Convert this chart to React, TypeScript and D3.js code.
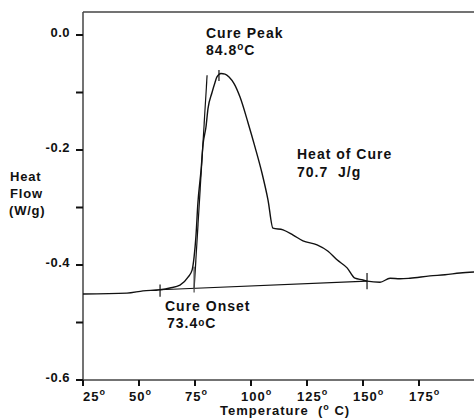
import React from "react";
import * as d3 from "d3";

const temps = [25, 44.6, 51.8, 59.4, 63.8, 68.3, 71.9, 73.7, 74.6, 75.4, 76.3, 77.7, 78.6, 79.9, 80.8, 82.6, 83.9, 84.8, 86.6, 88.4, 90.2, 92.5, 95.1, 98.7, 101.8, 104.9, 107.6, 109.8, 114.3, 118.8, 123.2, 129.5, 134.4, 138.4, 142.9, 146.4, 150.0, 151.8, 157.6, 162.1, 166.5, 171.0, 179.9, 186.6, 193.3, 200];
const heatFlow = [-0.4504, -0.449, -0.445, -0.443, -0.44, -0.435, -0.421, -0.409, -0.386, -0.351, -0.292, -0.235, -0.19, -0.16, -0.128, -0.1, -0.083, -0.073, -0.067, -0.068, -0.073, -0.085, -0.108, -0.153, -0.195, -0.24, -0.287, -0.336, -0.339, -0.348, -0.358, -0.365, -0.376, -0.391, -0.405, -0.423, -0.426, -0.428, -0.43, -0.423, -0.424, -0.423, -0.419, -0.417, -0.414, -0.412];

const baselineT = [59.4, 151.8];
const baselineV = [-0.443, -0.428];
const tangentT = [80.4, 74.6];
const tangentV = [-0.07, -0.442];
const onsetLineT = 74.6;
const onsetLineV = [-0.403, -0.448];
const startTickT = 59.4;
const startTickV = [-0.434, -0.455];
const endTickT = 151.8;
const endTickV = [-0.414, -0.442];
const peakTickT = 85.7;
const peakTickV = [-0.061, -0.08];

const xTicks = [25, 50, 75, 100, 125, 150, 175];
const yTicks = [0, -0.1, -0.2, -0.3, -0.4, -0.5, -0.6];
const yTickLabels = ["0.0", "", "-0.2", "", "-0.4", "", "-0.6"];

const W = 474;
const H = 418;
const x = d3.scaleLinear().domain([25, 200]).range([83, 475]);
const y = d3.scaleLinear().domain([-0.6, 0.04]).range([380, 12]);

const FONT = "'Liberation Sans', Arial, sans-serif";

export default function App() {
  const line = d3
    .line<number>()
    .x((_, i) => x(temps[i]))
    .y((d) => y(d))
    .curve(d3.curveMonotoneX);
  const path = line(heatFlow) || "";
  const axisColor = "#444";
  const txt = { fontFamily: FONT, fontWeight: 700, fontSize: 14, letterSpacing: 1, fill: "#111", style: { whiteSpace: "pre" as const } };
  const sup = (s: string) => (
    <tspan fontSize={9} dy={-6}>
      {s}
    </tspan>
  );
  return (
    <svg width={W} height={H} style={{ position: "fixed", left: 0, top: 0, background: "#fff" }}>
      <rect x={0} y={0} width={W} height={H} fill="#fff" />
      <line x1={83} y1={12} x2={W} y2={12} stroke={axisColor} strokeWidth={1.5} />
      <line x1={83} y1={12} x2={83} y2={382} stroke={axisColor} strokeWidth={1.5} />
      <line x1={83} y1={380} x2={W} y2={380} stroke={axisColor} strokeWidth={1.5} />
      {yTicks.map((t, i) => (
        <g key={"y" + i}>
          <line x1={76} x2={83} y1={y(t)} y2={y(t)} stroke="#111" strokeWidth={2} />
          {yTickLabels[i] && (
            <text x={70} y={y(t) + 2} textAnchor="end" {...txt} fontSize={13} letterSpacing={0.5}>
              {yTickLabels[i]}
            </text>
          )}
        </g>
      ))}
      {xTicks.map((t, i) => (
        <g key={"x" + i}>
          <line x1={x(t)} x2={x(t)} y1={380} y2={386} stroke="#111" strokeWidth={2} />
          <text x={i === 0 ? x(t) : x(t) - 10} y={401} {...txt} fontSize={13} letterSpacing={1}>
            {String(t)}
            {sup("o")}
          </text>
        </g>
      ))}
      <text x={220} y={415} {...txt} fontSize={13} letterSpacing={1}>
        {"Temperature  ("}
        <tspan fontSize={9} dy={-5}>o</tspan>
        <tspan dy={5}>{" C)"}</tspan>
      </text>
      <text {...txt} fontSize={13} letterSpacing={0.8}>
        <tspan x={10} y={181}>Heat</tspan>
        <tspan x={10} y={198}>Flow</tspan>
        <tspan x={9} y={215}>(W/g)</tspan>
      </text>
      <line x1={x(baselineT[0])} y1={y(baselineV[0])} x2={x(baselineT[1])} y2={y(baselineV[1])} stroke="#111" strokeWidth={1.2} />
      <line x1={x(tangentT[0])} y1={y(tangentV[0])} x2={x(tangentT[1])} y2={y(tangentV[1])} stroke="#111" strokeWidth={1.2} />
      <line x1={x(onsetLineT)} x2={x(onsetLineT)} y1={y(onsetLineV[0])} y2={y(onsetLineV[1])} stroke="#555" strokeWidth={1.3} />
      <line x1={x(startTickT)} x2={x(startTickT)} y1={y(startTickV[0])} y2={y(startTickV[1])} stroke="#111" strokeWidth={1.2} />
      <line x1={x(endTickT)} x2={x(endTickT)} y1={y(endTickV[0])} y2={y(endTickV[1])} stroke="#111" strokeWidth={1.2} />
      <line x1={x(peakTickT)} x2={x(peakTickT)} y1={y(peakTickV[0])} y2={y(peakTickV[1])} stroke="#111" strokeWidth={1.2} />
      <path d={path} fill="none" stroke="#111" strokeWidth={1.4} strokeLinejoin="round" />
      <text x={206} y={38} {...txt}>Cure Peak</text>
      <text x={206} y={55} {...txt}>
        {"84.8"}
        <tspan fontSize={10} dy={-5}>o</tspan>
        <tspan dy={5}>C</tspan>
      </text>
      <text x={297} y={159} {...txt}>Heat of Cure</text>
      <text x={297} y={177} {...txt}>{"70.7  J/g"}</text>
      <text x={165} y={311} {...txt}>Cure Onset</text>
      <text x={167} y={328} {...txt}>
        {"73.4"}
        <tspan fontSize={10} dy={-2}>o</tspan>
        <tspan dy={2}>C</tspan>
      </text>
    </svg>
  );
}
